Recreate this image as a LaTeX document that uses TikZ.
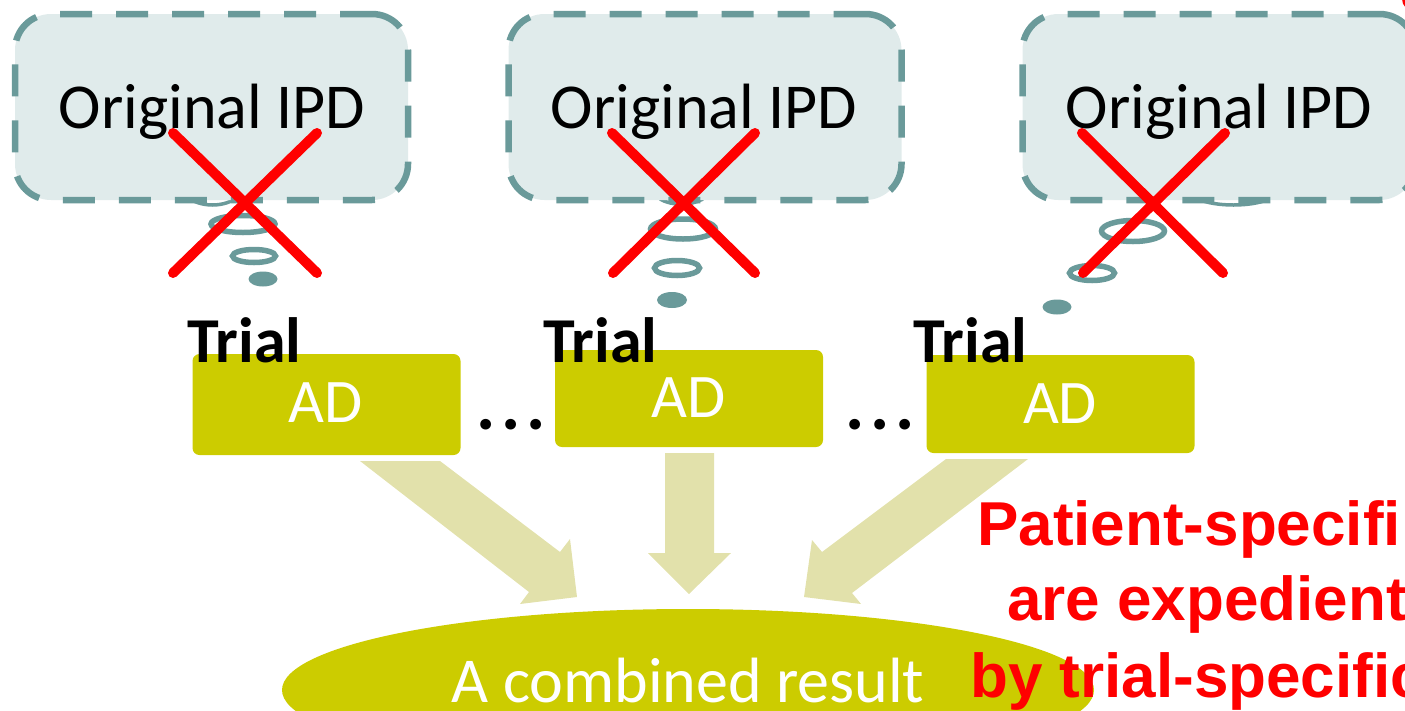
\documentclass[tikz,border=0pt]{standalone}
\usepackage{fontspec}
\setmainfont{Carlito}
\newfontfamily\notefont{Liberation Sans}
\usetikzlibrary{shapes.geometric}
\definecolor{bubbleline}{HTML}{6A9A9A}
\definecolor{bubblefill}{HTML}{E0EBEB}
\definecolor{olivebox}{HTML}{CCCC00}
\definecolor{flowfill}{HTML}{E2E1AB}
\definecolor{alertred}{HTML}{FF0000}
\begin{document}
\begin{tikzpicture}[x=1pt,y=-1pt,
  bubble/.style={draw=bubbleline, fill=bubblefill, line width=6.5pt,
    dash pattern=on 32pt off 24pt, rounded corners=36pt,
    minimum width=393pt, minimum height=186pt, inner sep=0pt},
  bump/.style={draw=bubbleline, line width=3.5pt},
  ring/.style={draw=bubbleline, line width=5.5pt},
  puff/.style={fill=bubbleline},
  cross/.style={draw=alertred, line width=10pt, line cap=round},
  adbox/.style={fill=olivebox, rounded corners=7pt, minimum width=268pt,
    minimum height=100pt, inner sep=0pt},
  flow/.style={fill=flowfill},
  ipdtext/.style={font=\fontsize{64}{76}\selectfont, inner sep=0pt, anchor=base},
  adtext/.style={text=white, font=\fontsize{62}{74}\selectfont, inner sep=0pt, anchor=base},
  trialtext/.style={font=\bfseries\fontsize{64}{76}\selectfont, inner sep=0pt, anchor=base west},
  dotstext/.style={font=\bfseries\fontsize{72}{80}\selectfont, inner sep=0pt, anchor=base},
  notetext/.style={text=alertred, font=\notefont\bfseries\fontsize{62}{74}\selectfont,
    inner sep=0pt, anchor=base west},
]
\useasboundingbox (0,0) rectangle (1405,710);
\clip (0,0) rectangle (1405,710);

% combined result
\node[ellipse, fill=olivebox, minimum width=812pt, minimum height=162pt, inner sep=0pt]
  (res) at (688,690) {};
\node[adtext, font=\fontsize{64}{76}\selectfont] (restext) at (688,702) {A combined result};

% block arrows into the combined result
\fill[flow] (360,461) -- (440,461) -- (560,552) -- (570,539) -- (577,597)
  -- (520,604) -- (529,592) -- cycle;
\fill[flow] (665,453) -- (714,453) -- (714,553) -- (731,553) -- (689,594)
  -- (648,553) -- (665,553) -- cycle;
\fill[flow] (946,459) -- (1028,459) -- (852,593) -- (861,604) -- (804,597)
  -- (812,540) -- (822,552) -- cycle;

% aggregate data boxes
\node[adbox, minimum height=101pt] (ad1) at (326.5,404.5) {};
\node[adbox, minimum height=97pt] (ad2) at (689,398.5) {};
\node[adbox, minimum height=98pt] (ad3) at (1060.5,404) {};
\node[adtext] (adt1) at (326,422) {AD};
\node[adtext] (adt2) at (689,417) {AD};
\node[adtext] (adt3) at (1060,423) {AD};

\node[dotstext] (dots1) at (511,429) {.\kern6pt.\kern6pt.};
\node[dotstext] (dots2) at (880,429) {.\kern6pt.\kern6pt.};

\node[trialtext] (tr1) at (187,362) {Trial};
\node[trialtext] (tr2) at (543,362) {Trial};
\node[trialtext] (tr3) at (913,362) {Trial};

% thought-bubble tails
\draw[bump] (190,199) .. controls (203,207) and (222,207) .. (235,199);
\draw[bump] (660,199) .. controls (672,206) and (690,206) .. (703,199);
\draw[bump] (1198,199) .. controls (1215,207) and (1252,207) .. (1269,199);

\draw[ring] (243,224) ellipse [x radius=32, y radius=8.5];
\draw[ring] (254,256) ellipse [x radius=21.5, y radius=6.5];
\fill[puff] (263,279) ellipse [x radius=14.5, y radius=7.5];

\draw[ring] (683,229) ellipse [x radius=32.5, y radius=10];
\draw[ring] (677,268) ellipse [x radius=22.5, y radius=7.5];
\fill[puff] (672,300) ellipse [x radius=15, y radius=8];

\draw[ring] (1133,231) ellipse [x radius=31.5, y radius=10.5];
\draw[ring] (1092,273) ellipse [x radius=22.5, y radius=7.5];
\fill[puff] (1057,307) ellipse [x radius=14.5, y radius=7.5];

% original IPD bubbles
\node[bubble] (b1) at (211.5,107) {};
\node[bubble] (b2) at (705,107) {};
\node[bubble] (b3) at (1219,107) {};
\node[ipdtext] (ipd1) at (212,128) {Original IPD};
\node[ipdtext] (ipd2) at (704,128) {Original IPD};
\node[ipdtext] (ipd3) at (1219,128) {Original IPD};

% crossed out
\draw[cross] (173,133) -- (317,273);
\draw[cross] (317,133) -- (173,273);
\draw[cross] (612,133) -- (755,273);
\draw[cross] (755,133) -- (613,273);
\draw[cross] (1082,133) -- (1223,273);
\draw[cross] (1225,133) -- (1083,273);

\fill[alertred] (1414,-1) circle (12);

% note
\node[notetext] (n1) at (977,545) {Patient-specifi};
\node[notetext] (n2) at (1007,620) {are expedient};
\node[notetext] (n3) at (970,697) {by trial-specific};
\end{tikzpicture}
\end{document}
